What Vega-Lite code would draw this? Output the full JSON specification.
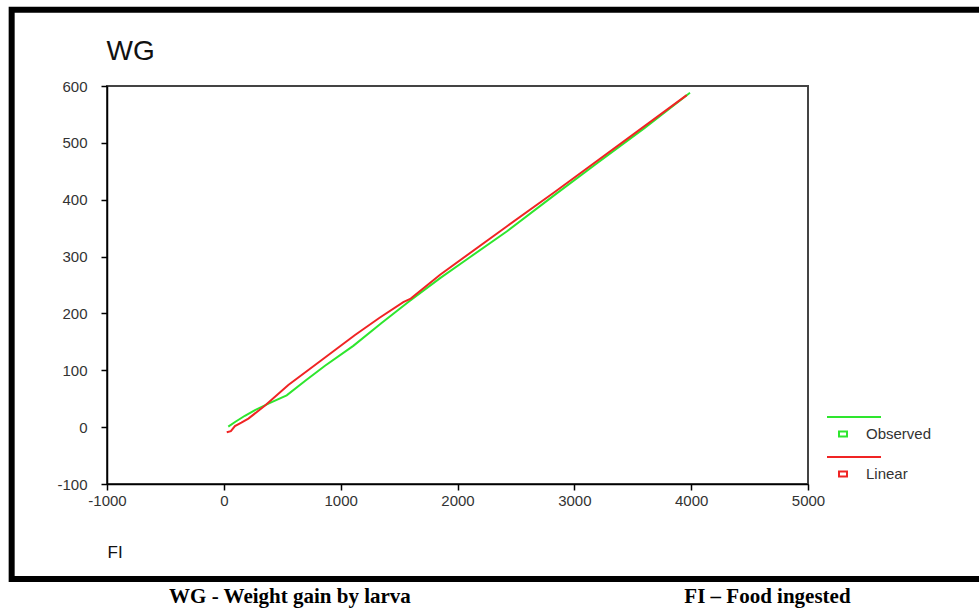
{
  "$schema": "https://vega.github.io/schema/vega-lite/v6.json",
  "width": 701,
  "height": 398,
  "autosize": "none",
  "padding": {"left": 107, "top": 86, "right": 171, "bottom": 126},
  "background": "white",
  "config": {
    "view": {"stroke": "#444444", "strokeWidth": 2},
    "axis": {"grid": false, "domainColor": "#000000", "domainWidth": 1.5, "tickColor": "#000000", "tickWidth": 1.5, "tickSize": 6, "labelFont": "Liberation Sans", "labelFontSize": 15, "labelColor": "#333333", "labelFlush": false, "labelOverlap": false, "labelExpr": "'' + datum.value"}
  },
  "datasets": {
    "curves": [
      {"series": "Observed", "FI": 38, "WG": 1},
      {"series": "Observed", "FI": 96, "WG": 9},
      {"series": "Observed", "FI": 180, "WG": 20},
      {"series": "Observed", "FI": 267, "WG": 30},
      {"series": "Observed", "FI": 400, "WG": 43},
      {"series": "Observed", "FI": 538, "WG": 56},
      {"series": "Observed", "FI": 700, "WG": 82},
      {"series": "Observed", "FI": 866, "WG": 108},
      {"series": "Observed", "FI": 1108, "WG": 143},
      {"series": "Observed", "FI": 1350, "WG": 183},
      {"series": "Observed", "FI": 1579, "WG": 220},
      {"series": "Observed", "FI": 1851, "WG": 262},
      {"series": "Observed", "FI": 2100, "WG": 298},
      {"series": "Observed", "FI": 2421, "WG": 344},
      {"series": "Observed", "FI": 2835, "WG": 409},
      {"series": "Observed", "FI": 3200, "WG": 465},
      {"series": "Observed", "FI": 3600, "WG": 526},
      {"series": "Observed", "FI": 3990, "WG": 588},
      {"series": "Linear", "FI": 25, "WG": -9},
      {"series": "Linear", "FI": 60, "WG": -7},
      {"series": "Linear", "FI": 95, "WG": 2},
      {"series": "Linear", "FI": 150, "WG": 8},
      {"series": "Linear", "FI": 210, "WG": 15},
      {"series": "Linear", "FI": 353, "WG": 38},
      {"series": "Linear", "FI": 552, "WG": 74},
      {"series": "Linear", "FI": 838, "WG": 118},
      {"series": "Linear", "FI": 1123, "WG": 162},
      {"series": "Linear", "FI": 1330, "WG": 192},
      {"series": "Linear", "FI": 1536, "WG": 220},
      {"series": "Linear", "FI": 1600, "WG": 226},
      {"series": "Linear", "FI": 1851, "WG": 268},
      {"series": "Linear", "FI": 2421, "WG": 353},
      {"series": "Linear", "FI": 2835, "WG": 414},
      {"series": "Linear", "FI": 3400, "WG": 499},
      {"series": "Linear", "FI": 3962, "WG": 584}
    ],
    "captions": [
      {"label": "WG - Weight gain by larva", "cx": 566, "cy": -299},
      {"label": "FI – Food ingested", "cx": 4653, "cy": -299}
    ],
    "frame": [{"x0": -1816, "x1": 6500, "y0": 734, "y1": -267}]
  },
  "layer": [
    {
      "data": {"name": "curves"},
      "mark": {"type": "line", "strokeWidth": 2, "clip": false},
      "encoding": {
        "x": {"field": "FI", "type": "quantitative", "scale": {"domain": [-1000, 5000], "nice": false, "zero": false},
          "axis": {"values": [-1000, 0, 1000, 2000, 3000, 4000, 5000], "labelPadding": 3, "title": "FI", "titleAnchor": "start", "titleAlign": "left", "titleFont": "Liberation Sans", "titleFontSize": 17, "titleFontWeight": "normal", "titleColor": "#111111", "titlePadding": 36}},
        "y": {"field": "WG", "type": "quantitative", "scale": {"domain": [-100, 600], "nice": false, "zero": false},
          "axis": {"values": [-100, 0, 100, 200, 300, 400, 500, 600], "labelPadding": 14, "title": "WG", "titleAngle": 0, "titleAlign": "left", "titleBaseline": "alphabetic", "titleX": -1, "titleY": -27, "titleFont": "Liberation Sans", "titleFontSize": 28, "titleFontWeight": "normal", "titleColor": "#111111"}},
        "color": {"field": "series", "type": "nominal", "scale": {"domain": ["Observed", "Linear"], "range": ["#2ee62e", "#f02424"]},
          "legend": {"orient": "none", "legendX": 725, "legendY": 337, "title": null, "padding": 0, "symbolType": "M-1.6,-1.7H3.8M-0.4,-0.25H0.4V0.25H-0.4Z", "symbolSize": 400, "symbolStrokeWidth": 2, "symbolFillColor": "transparent", "labelFont": "Liberation Sans", "labelFontSize": 15, "labelColor": "#333333", "labelOffset": 12, "rowPadding": 11}},
        "order": {"field": "FI", "type": "quantitative"}
      }
    },
    {
      "data": {"name": "frame"},
      "mark": {"type": "rect", "filled": false, "stroke": "#000000", "strokeWidth": 6, "clip": false},
      "encoding": {
        "x": {"field": "x0", "type": "quantitative"},
        "x2": {"field": "x1"},
        "y": {"field": "y0", "type": "quantitative"},
        "y2": {"field": "y1"}
      }
    },
    {
      "data": {"name": "captions"},
      "mark": {"type": "text", "font": "Liberation Serif", "fontWeight": "bold", "fontSize": 21, "color": "#000000", "align": "center", "baseline": "middle", "clip": false},
      "encoding": {
        "x": {"field": "cx", "type": "quantitative"},
        "y": {"field": "cy", "type": "quantitative"},
        "text": {"field": "label"}
      }
    }
  ]
}
